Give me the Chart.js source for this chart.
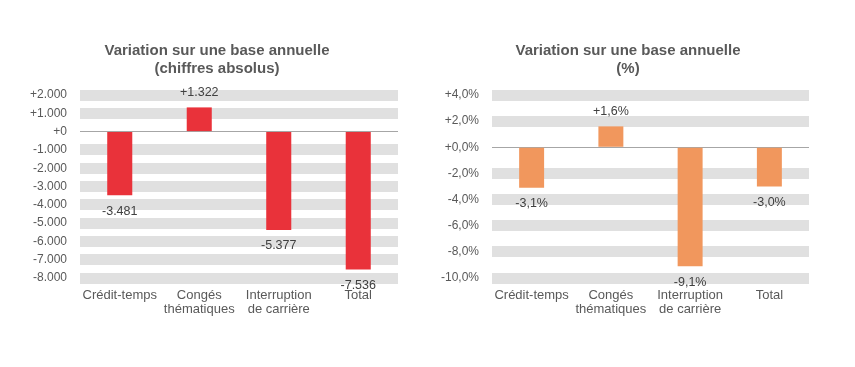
<!DOCTYPE html>
<html>
<head>
<meta charset="utf-8">
<script src="https://cdn.jsdelivr.net/npm/chart.js@4/dist/chart.umd.min.js"></script>
<style>
  html, body { margin: 0; padding: 0; background: #ffffff; }
  body { width: 855px; height: 367px; position: relative; overflow: hidden; }
  .box { position: absolute; top: 0; height: 367px; }
  #c1box { left: 10px; width: 414px; }
  #c2box { left: 428px; width: 400px; }
</style>
</head>
<body>
<div class="box" id="c1box"><canvas id="c1"></canvas></div>
<div class="box" id="c2box"><canvas id="c2"></canvas></div>
<script>
const categories = [["Crédit-temps"], ["Congés", "thématiques"], ["Interruption", "de carrière"], ["Total"]];
const absoluteValues = [-3481, 1322, -5377, -7536];
const percentValues = [-3.1, 1.6, -9.1, -3.0];
const absoluteTitle = ["Variation sur une base annuelle", "(chiffres absolus)"];
const percentTitle = ["Variation sur une base annuelle", "(%)"];
const absoluteAxis = { min: -8000, max: 2000, step: 1000 };
const percentAxis = { min: -10, max: 4, step: 2 };

const FONT = "'Liberation Sans', Arial, sans-serif";
const TEXT = "#595959";

function thousands(n) {
  const s = String(Math.round(Math.abs(n)));
  return s.replace(/\B(?=(\d{3})+(?!\d))/g, ".");
}
function fmtAbs(v) {
  const sign = v > 0 ? "+" : (v < 0 ? "-" : "+");
  return sign + thousands(v);
}
function fmtPct(v) {
  const sign = v > 0 ? "+" : (v < 0 ? "-" : "+");
  return sign + Math.abs(v).toFixed(1).replace(".", ",") + "%";
}

const titlePlugin = {
  id: "customTitle",
  afterDraw(chart, args, opts) {
    const ctx = chart.ctx;
    ctx.save();
    ctx.font = "bold 15px " + FONT;
    ctx.fillStyle = TEXT;
    ctx.textAlign = "center";
    ctx.textBaseline = "middle";
    const cx = chart.width / 2;
    opts.lines.forEach((l, i) => ctx.fillText(l, cx, 51 + i * 18));
    ctx.restore();
  }
};

const labelPlugin = {
  id: "valueLabels",
  afterDatasetsDraw(chart, args, opts) {
    const ctx = chart.ctx;
    const meta = chart.getDatasetMeta(0);
    const data = chart.data.datasets[0].data;
    ctx.save();
    ctx.font = "12.5px " + FONT;
    ctx.fillStyle = "#404040";
    ctx.textAlign = "center";
    ctx.textBaseline = "middle";
    meta.data.forEach((bar, i) => {
      const v = data[i];
      const y = v >= 0 ? bar.y - 15 : bar.y + 16;
      ctx.fillText(opts.format(v), bar.x, y);
    });
    ctx.restore();
  }
};

function makeChart(id, values, color, axis, fmt, title, yWidth, padRight) {
  return new Chart(document.getElementById(id), {
    type: "bar",
    data: {
      labels: categories,
      datasets: [{
        data: values,
        backgroundColor: color,
        borderWidth: 0,
        barPercentage: 0.315,
        categoryPercentage: 1.0
      }]
    },
    options: {
      responsive: true,
      maintainAspectRatio: false,
      animation: false,
      devicePixelRatio: 1,
      layout: { padding: { top: 95, right: padRight, bottom: 49, left: 0 } },
      plugins: {
        legend: { display: false },
        tooltip: { enabled: false },
        title: { display: false },
        customTitle: { lines: title },
        valueLabels: { format: fmt }
      },
      scales: {
        x: {
          grid: { display: false },
          border: { display: false },
          ticks: {
            color: TEXT,
            font: { family: FONT, size: 13, lineHeight: 14 / 13 },
            padding: 2,
            maxRotation: 0,
            autoSkip: false
          },
          afterFit(scale) { scale.height = 40; }
        },
        y: {
          min: axis.min,
          max: axis.max,
          border: { display: false },
          grid: {
            drawTicks: false,
            color: ctx => (ctx.tick && ctx.tick.value === 0) ? "#a6a6a6" : "#e0e0e0",
            lineWidth: ctx => (ctx.tick && ctx.tick.value === 0) ? 1 : 11,
            z: -1
          },
          ticks: {
            stepSize: axis.step,
            color: TEXT,
            font: { family: FONT, size: 12 },
            padding: 13,
            callback: v => fmt(v)
          },
          afterFit(scale) { scale.width = yWidth; }
        }
      }
    },
    plugins: [titlePlugin, labelPlugin]
  });
}

makeChart("c1", absoluteValues, "#e9323a", absoluteAxis, fmtAbs, absoluteTitle, 70, 26);
makeChart("c2", percentValues, "#f1975d", percentAxis, fmtPct, percentTitle, 64, 19);
</script>
</body>
</html>
